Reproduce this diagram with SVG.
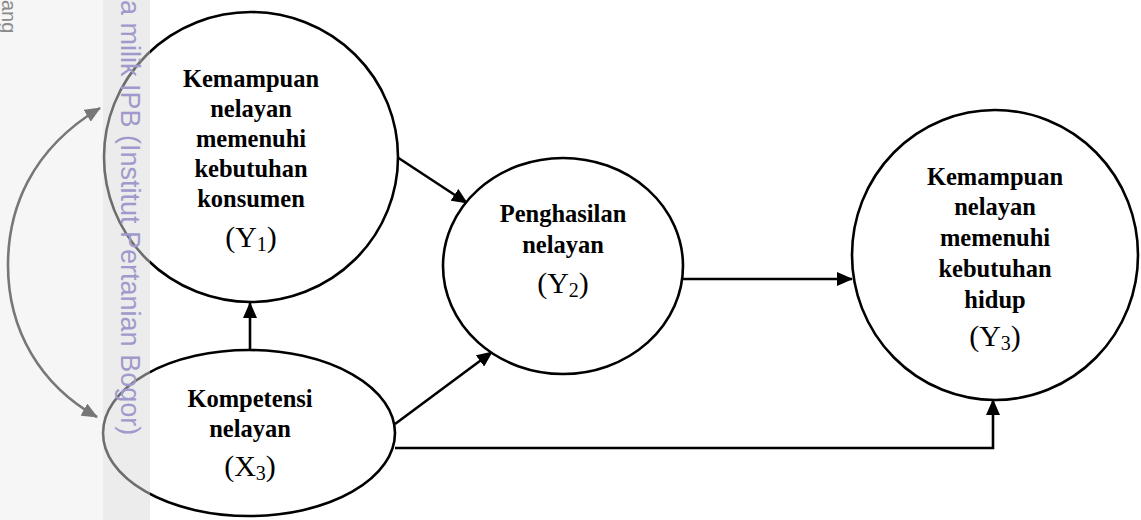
<svg xmlns="http://www.w3.org/2000/svg" width="1141" height="520" viewBox="0 0 1141 520">
  <style>
    .node { fill: #ffffff; stroke: #000000; stroke-width: 2.6; }
    .edge { fill: none; stroke: #000000; stroke-width: 2.6; }
    .label { font-family: "Liberation Serif", "Times New Roman", serif; font-size: 24.5px; font-weight: bold; fill: #000000; text-anchor: middle; }
    .code { font-family: "Liberation Serif", "Times New Roman", serif; font-size: 30px; fill: #000000; text-anchor: middle; }
    .sub { font-size: 20px; }
    .mark { font-family: "Liberation Sans", Arial, sans-serif; }
  </style>
  <defs>
    <marker id="arrow" markerUnits="userSpaceOnUse" markerWidth="16" markerHeight="14" refX="15" refY="7" orient="auto">
      <path d="M0,0 L16,7 L0,14 Z" fill="#000000"/>
    </marker>
    <marker id="arrowCurve" markerUnits="userSpaceOnUse" markerWidth="16" markerHeight="14" refX="15" refY="7" orient="auto-start-reverse">
      <path d="M0,0 L16,7 L0,14 Z" fill="#000000"/>
    </marker>
  </defs>

  <rect x="0" y="0" width="1141" height="520" fill="#ffffff"/>

  <!-- connectors -->
  <g id="connectors">
    <path class="edge" d="M100,108 C30,150 8,210 8,265 C8,330 40,385 97,417" stroke-width="2.2" marker-start="url(#arrowCurve)" marker-end="url(#arrowCurve)"/>
    <path class="edge" d="M397,157 L467,203" marker-end="url(#arrow)"/>
    <path class="edge" d="M395,424 L492,352" marker-end="url(#arrow)"/>
    <path class="edge" d="M250,350 L250,303" marker-end="url(#arrow)"/>
    <path class="edge" d="M683,279 L852,279" marker-end="url(#arrow)"/>
    <path class="edge" d="M395,448 L993,448 L993,400" marker-end="url(#arrow)"/>
  </g>

  <!-- Y1 -->
  <g id="node-y1">
    <ellipse class="node" cx="251" cy="157" rx="147" ry="145"/>
    <text class="label" x="251" y="87">Kemampuan</text>
    <text class="label" x="251" y="117">nelayan</text>
    <text class="label" x="251" y="147">memenuhi</text>
    <text class="label" x="251" y="177">kebutuhan</text>
    <text class="label" x="251" y="207">konsumen</text>
    <text class="code" x="251" y="247">(Y<tspan class="sub" dy="4">1</tspan><tspan dy="-4">)</tspan></text>
  </g>

  <!-- X3 -->
  <g id="node-x3">
    <ellipse class="node" cx="249" cy="433" rx="146" ry="83"/>
    <text class="label" x="250" y="407">Kompetensi</text>
    <text class="label" x="250" y="437">nelayan</text>
    <text class="code" x="250" y="476">(X<tspan class="sub" dy="4">3</tspan><tspan dy="-4">)</tspan></text>
  </g>

  <!-- Y2 -->
  <g id="node-y2">
    <ellipse class="node" cx="563" cy="266" rx="120" ry="108"/>
    <text class="label" x="563" y="222">Penghasilan</text>
    <text class="label" x="563" y="253">nelayan</text>
    <text class="code" x="563" y="293">(Y<tspan class="sub" dy="4">2</tspan><tspan dy="-4">)</tspan></text>
  </g>

  <!-- Y3 -->
  <g id="node-y3">
    <ellipse class="node" cx="995" cy="255" rx="143" ry="145"/>
    <text class="label" x="995" y="185">Kemampuan</text>
    <text class="label" x="995" y="215">nelayan</text>
    <text class="label" x="995" y="246">memenuhi</text>
    <text class="label" x="995" y="277">kebutuhan</text>
    <text class="label" x="995" y="308">hidup</text>
    <text class="code" x="995" y="346">(Y<tspan class="sub" dy="4">3</tspan><tspan dy="-4">)</tspan></text>
  </g>

  <!-- left margin shading and margin notes -->
  <rect x="0" y="0" width="103" height="520" fill="#eeeeee" opacity="0.5"/>
  <rect x="103" y="0" width="47" height="520" fill="#d9d9d9" opacity="0.5"/>
  <text class="mark" transform="translate(121,0) rotate(90)" x="0" y="0" font-size="27" fill="#9f9acb">a milik IPB (Institut Pertanian Bogor)</text>
  <text class="mark" transform="translate(2,0) rotate(90)" x="0" y="0" font-size="20" fill="#8a8a8a">ang</text>
</svg>
